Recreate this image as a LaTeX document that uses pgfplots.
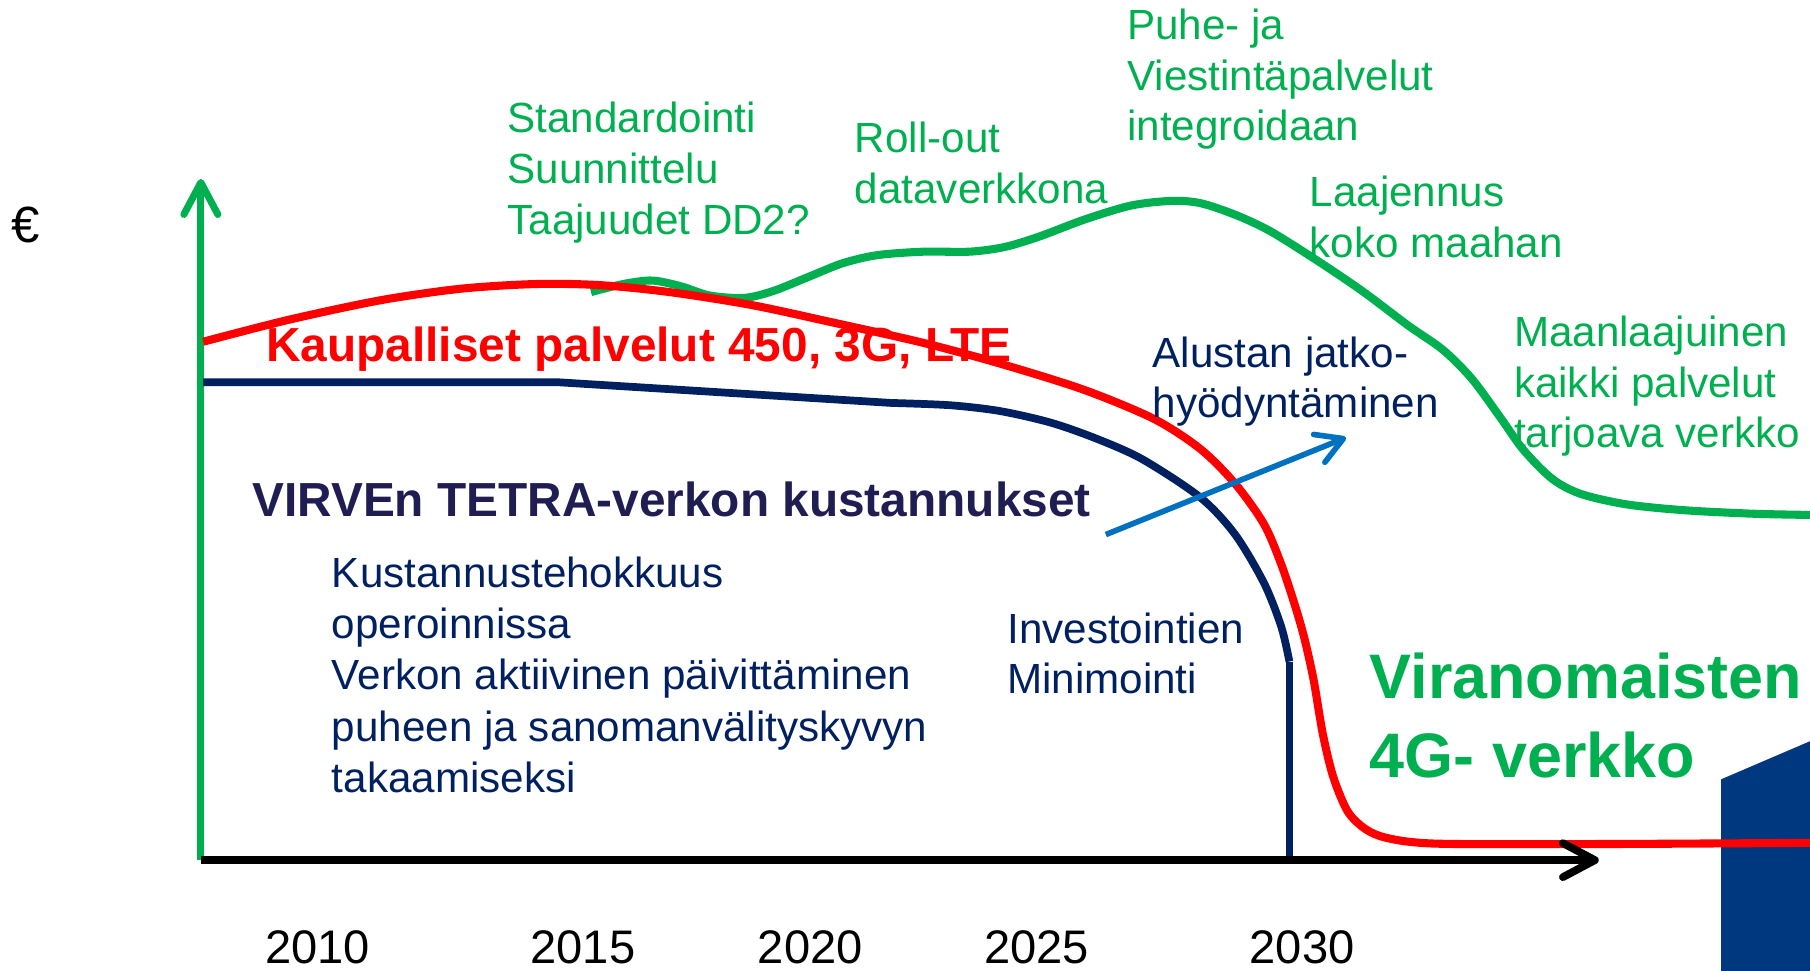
\documentclass[border=0pt]{standalone}
\usepackage{pgfplots}
\pgfplotsset{compat=1.18}
\usepackage{fontspec}
\setmainfont{Liberation Sans}
\usetikzlibrary{arrows.meta}

\definecolor{vgreen}{RGB}{0,176,80}
\definecolor{vred}{RGB}{255,0,0}
\definecolor{vnavy}{RGB}{0,32,96}
\definecolor{vindigo}{RGB}{31,29,82}
\definecolor{varrow}{RGB}{0,112,192}
\definecolor{vblock}{RGB}{0,56,128}

\tikzset{
  txt/.style={anchor=base west, inner sep=0pt, font=\fontsize{12}{14}\selectfont},
  big/.style={anchor=base west, inner sep=0pt, font=\fontsize{13.6}{16}\selectfont\bfseries},
}

\begin{document}
\begin{tikzpicture}
\path[use as bounding box, clip] (0,0) rectangle (18.1cm,9.71cm);
\begin{axis}[
  at={(0,0)}, anchor=south west,
  scale only axis, width=18.1cm, height=9.71cm,
  xmin=0, xmax=1568, ymin=0, ymax=841,
  axis line style={draw=none},
  major tick length=0pt,
  ytick=\empty,
  xtick={275,505,702,898,1128},
  xticklabels={2010,2015,2020,2025,2030},
  xticklabel style={anchor=base, yshift=0.07cm, font=\fontsize{13.4}{16}\selectfont},
  /pgf/number format/assume math mode=true,
  clip=false,
]
% dark blue block, right edge
\addplot[fill=vblock, draw=none] coordinates {(1491,0) (1491,166) (1568,199) (1568,0)} \closedcycle;

% axes drawn as arrows
\draw[vgreen, line width=2pt, -{Straight Barb[length=3.2mm,width=3.4mm,round]}] (axis cs:174,96) -- (axis cs:174,686);

% VIRVE cost curve
\addplot[vnavy, line width=2.2pt] coordinates {(176,510) (482,510) (772,492)};
\addplot[vnavy, line width=2.2pt, smooth] coordinates {
  (772,492) (823,490) (866,485) (910,475) (950,461) (990,443) (1040,410)
  (1070,378) (1095,336) (1110,298) (1117,268)
};
\addplot[vnavy, line width=2.2pt] coordinates {(1117,268) (1117,96)};

% new services curve
\addplot[vgreen, line width=2.3pt, smooth] coordinates {
  (512,588) (540,595) (565,598) (590,593) (615,585) (645,583) (670,589) (700,601)
  (730,613) (760,620) (800,623) (840,623) (870,627) (900,636) (940,651) (980,663)
  (1015,667) (1040,665) (1070,655) (1100,641) (1140,616) (1180,589) (1220,559)
  (1250,538) (1275,513) (1300,479) (1320,451) (1345,426) (1370,413) (1410,404)
  (1460,399) (1520,396) (1568,395)
};

% commercial services curve
\addplot[vred, line width=2.3pt, smooth] coordinates {
  (176,545) (250,564) (330,581) (400,591) (465,595) (520,594) (580,588) (650,577)
  (720,562) (800,544) (870,525) (940,503) (1000,478) (1040,452) (1070,422)
  (1095,387) (1110,352) (1122,316) (1130,288) (1138,252) (1146,205) (1155,168)
  (1167,139) (1180,125) (1195,117) (1220,112) (1260,110) (1400,110) (1568,111)
};

\draw[black, line width=2.2pt, -{Straight Barb[length=3.2mm,width=3.4mm,round]}] (axis cs:174,96) -- (axis cs:1385,96);
\draw[varrow, line width=1.6pt, -{Straight Barb[length=2.6mm,width=3mm,round]}] (axis cs:958,378) -- (axis cs:1166,462);

% labels
\node[anchor=base west, inner sep=0pt, font=\fontsize{14.5}{16}\selectfont] at (axis cs:9,631) {€};

\node[txt, text=vgreen] at (axis cs:439,726) {Standardointi};
\node[txt, text=vgreen] at (axis cs:439,682) {Suunnittelu};
\node[txt, text=vgreen] at (axis cs:439,638) {Taajuudet DD2?};

\node[txt, text=vgreen] at (axis cs:740,709) {Roll-out};
\node[txt, text=vgreen] at (axis cs:740,665) {dataverkkona};

\node[txt, text=vgreen] at (axis cs:976,807) {Puhe- ja};
\node[txt, text=vgreen] at (axis cs:976,763) {Viestintäpalvelut};
\node[txt, text=vgreen] at (axis cs:976,719) {integroidaan};

\node[txt, text=vgreen] at (axis cs:1134,662) {Laajennus};
\node[txt, text=vgreen] at (axis cs:1134,618) {koko maahan};

\node[txt, text=vgreen] at (axis cs:1311,541) {Maanlaajuinen};
\node[txt, text=vgreen] at (axis cs:1311,497) {kaikki palvelut};
\node[txt, text=vgreen] at (axis cs:1311,453) {tarjoava verkko};

\node[txt, text=vnavy] at (axis cs:998,523) {Alustan jatko-};
\node[txt, text=vnavy] at (axis cs:998,479) {hyödyntäminen};

\node[big, text=vred] at (axis cs:230,528) {Kaupalliset palvelut 450, 3G, LTE};
\node[big, text=vindigo] at (axis cs:218,394) {VIRVEn TETRA-verkon kustannukset};

\node[txt, text=vnavy] at (axis cs:287,332) {Kustannustehokkuus};
\node[txt, text=vnavy] at (axis cs:287,288) {operoinnissa};
\node[txt, text=vnavy] at (axis cs:287,244) {Verkon aktiivinen päivittäminen};
\node[txt, text=vnavy] at (axis cs:287,199) {puheen ja sanomanvälityskyvyn};
\node[txt, text=vnavy] at (axis cs:287,155) {takaamiseksi};

\node[txt, text=vnavy] at (axis cs:872,284) {Investointien};
\node[txt, text=vnavy] at (axis cs:872,240) {Minimointi};

\node[anchor=base west, inner sep=0pt, text=vgreen, font=\fontsize{17.9}{22}\selectfont\bfseries] at (axis cs:1186,236) {Viranomaisten};
\node[anchor=base west, inner sep=0pt, text=vgreen, font=\fontsize{17.9}{22}\selectfont\bfseries] at (axis cs:1186,168) {4G- verkko};
\end{axis}
\end{tikzpicture}
\end{document}
